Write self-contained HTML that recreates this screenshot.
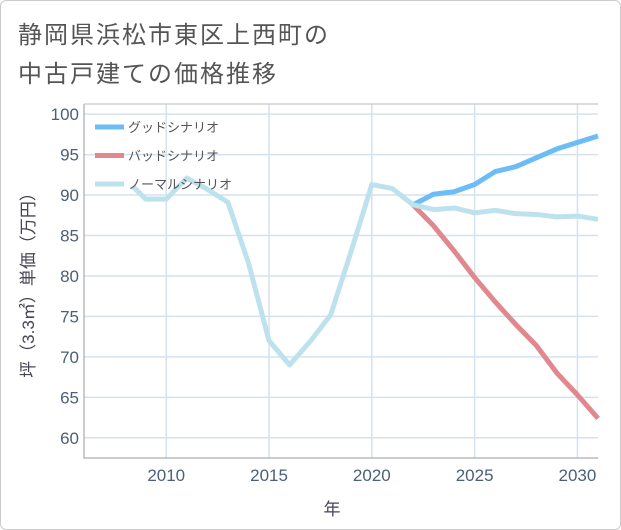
<!DOCTYPE html>
<html><head><meta charset="utf-8"><style>
body{margin:0;background:#fff;}
#card{position:absolute;left:0;top:0;width:619px;height:528px;border:1px solid #ccc;border-radius:6px;background:#fff;overflow:hidden;}
svg text{font-family:"Liberation Sans","Noto Sans CJK JP",sans-serif;}
</style></head><body>
<div id="card">
<svg id="chart" width="621" height="530">
<text x="17" y="42" font-size="24" letter-spacing="2" fill="#555">静岡県浜松市東区上西町の</text>
<text x="17" y="81" font-size="24" letter-spacing="2" fill="#555">中古戸建ての価格推移</text>
<g id="grid"></g><g id="series"></g><g id="axes"></g><g id="legend"></g>
<text x="331" y="514" font-size="17" fill="#445" text-anchor="middle">年</text>
<text transform="translate(33,280) rotate(-90)" font-size="17" fill="#445" text-anchor="middle">坪（3.3㎡）単価（万円）</text>
</svg></div>
<script>
const xTicks=[2010,2015,2020,2025,2030];
const yTicks=[60,65,70,75,80,85,90,95,100];
const normalYears=[2008.4,2009,2010,2011,2012,2013,2014,2015,2016,2017,2018,2019,2020,2021,2022,2023,2024,2025,2026,2027,2028,2029,2030,2031];
const normalValues=[91.0,89.5,89.5,92.1,90.7,89.1,81.6,72.0,69.0,71.9,75.2,83.1,91.3,90.8,88.8,88.2,88.4,87.8,88.1,87.7,87.6,87.3,87.4,87.0];
const goodYears=[2022,2023,2024,2025,2026,2027,2028,2029,2030,2031];
const goodValues=[88.8,90.1,90.4,91.3,92.9,93.5,94.6,95.7,96.5,97.3];
const badYears=[2022,2023,2024,2025,2026,2027,2028,2029,2030,2031];
const badValues=[88.8,86.2,83.1,79.8,76.8,74.0,71.4,68.0,65.3,62.4];
const seriesNames=["グッドシナリオ","バッドシナリオ","ノーマルシナリオ"];

const L=83,R=597,T=103,B=457,x0=2006,x1=2031,y0=57.5,y1=101.25;
const X=v=>L+(v-x0)/(x1-x0)*(R-L);
const Y=v=>B-(v-y0)/(y1-y0)*(B-T);
const NS="http://www.w3.org/2000/svg";
function mk(tag,attrs,parent){const e=document.createElementNS(NS,tag);for(const k in attrs)e.setAttribute(k,attrs[k]);parent.appendChild(e);return e;}
const grid=document.getElementById('grid'),axes=document.getElementById('axes'),ser=document.getElementById('series'),leg=document.getElementById('legend');
xTicks.forEach(t=>{
 const l=mk('line',{x1:X(t),x2:X(t),y1:T,y2:B,stroke:'#d5e2ee','stroke-width':1.5},grid);
 
 
 const tx=mk('text',{x:X(t),y:B+23,'font-size':17,fill:'#4a5f78','text-anchor':'middle'},axes);
 tx.textContent=t;
 
 
});
yTicks.forEach(t=>{
 const l=mk('line',{x1:L,x2:R,y1:Y(t),y2:Y(t),stroke:'#d5e2ee','stroke-width':1.5},grid);
 
 
 const tx=mk('text',{x:L-5,y:Y(t)+6,'font-size':17,fill:'#4a5f78','text-anchor':'end'},axes);
 tx.textContent=t;
 
 
});
const ax=mk('path',{d:`M${L},${T}V${B}H${R}`,fill:'none',stroke:'#999','stroke-width':1},axes);


const tf=mk('line',{x1:L,x2:R,y1:T,y2:T,stroke:'#bbb','stroke-width':1},axes);


function line(xs,ys,color,name){
 const p=mk('polyline',{points:xs.map((x,i)=>X(x)+','+Y(ys[i])).join(' '),fill:'none',stroke:color,'stroke-width':5,'stroke-linejoin':'round'},ser);
 
 
}
line(goodYears,goodValues,'#6cbdf5','good-scenario-line');
line(badYears,badValues,'#e0888e','bad-scenario-line');
line(normalYears,normalValues,'#bde2ee','normal-scenario-line');
const colors=['#6cbdf5','#e0888e','#bde2ee'];
seriesNames.forEach((n,i)=>{
 const y=126+i*28.5;
 const g=mk('g',{},leg);
 
 
 mk('line',{x1:94,x2:123,y1:y,y2:y,stroke:colors[i],'stroke-width':5},g);
 const t=mk('text',{x:127,y:y+5,'font-size':13,fill:'#555'},g);
 t.textContent=n;
});
</script>
</body></html>
